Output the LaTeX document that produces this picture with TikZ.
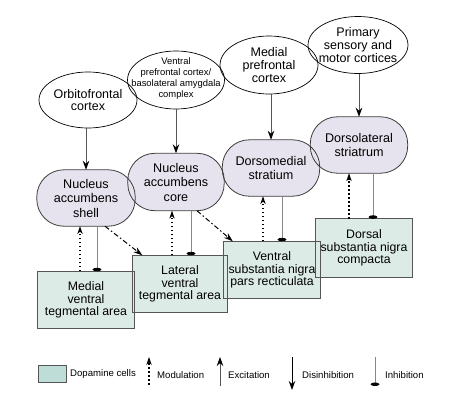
\documentclass[tikz,border=0pt]{standalone}
\usepackage{fontspec}
\setmainfont{Liberation Sans}
\usetikzlibrary{shapes.geometric,arrows.meta}
\definecolor{lav}{HTML}{E6E3EF}
\definecolor{dopfill}{HTML}{DDEBE7}
\definecolor{dopleg}{HTML}{BEDDD6}
\definecolor{strline}{HTML}{3A3A3A}
\definecolor{boxline}{HTML}{555555}
\definecolor{inhline}{HTML}{888888}
\definecolor{excline}{HTML}{555555}
\begin{document}
\begin{tikzpicture}[x=1pt,y=-1pt,
  ctx/.style={ellipse, draw=black, line width=0.7pt, inner sep=0pt},
  ctxtext/.style={inner sep=0pt, align=center, font=\fontsize{12.5}{12.6}\selectfont},
  strnode/.style={rectangle, rounded corners=27pt, fill=lav, inner sep=0pt, align=center,
    font=\fontsize{12.6}{14.5}\selectfont},
  dopnode/.style={rectangle, fill=dopfill, inner sep=0pt, align=center,
    font=\fontsize{12.3}{12.3}\selectfont},
  strout/.style={draw=strline, line width=0.8pt, rounded corners=27pt},
  dopout/.style={draw=boxline, line width=0.8pt},
  exc/.style={draw=excline, line width=0.8pt, -{Stealth[length=9pt,width=6.5pt,color=black]}},
  modu/.style={draw=black, line width=1.7pt, dash pattern=on 1.7pt off 2.3pt,
    -{Stealth[length=8pt,width=5.5pt,color=black,line width=0pt]}},
  dashdot/.style={draw=black, line width=1pt, dash pattern=on 5pt off 2.5pt on 1.5pt off 2.5pt,
    -{Stealth[length=9pt,width=6pt,color=black]}},
  inh/.style={draw=inhline, line width=0.9pt, -{Ellipse[width=8.5pt,length=3.5pt,color=black]}},
  disinh/.style={draw=black, line width=1pt, -{Stealth[length=9pt,width=6.5pt,color=black]}},
  legtext/.style={anchor=west, inner sep=0pt, font=\fontsize{9.6}{11}\selectfont}
]
\useasboundingbox (0,0) rectangle (450,400);

% cortex ellipses
\node[ctx, minimum width=98pt, minimum height=56pt] (ofc) at (88,100) {};
\node[ctxtext] (ofct) at (ofc.center) {Orbitofrontal\\cortex};
\node[ctx, minimum width=97pt, minimum height=58pt] (vpfc) at (176,80) {};
\node[ctxtext, font=\fontsize{9.4}{11}\selectfont] (vpfct) at ([yshift=1pt]vpfc.center)
  {Ventral\\prefrontal cortex/\\basolateral amygdala\\complex};
\node[ctx, minimum width=98pt, minimum height=58pt] (mpfc) at (269,65) {};
\node[ctxtext] (mpfct) at (mpfc.center) {Medial\\prefrontal\\cortex};
\node[ctx, minimum width=100pt, minimum height=57pt] (psm) at (358,45) {};
\node[ctxtext] (psmt) at (psm.center) {Primary\\sensory and\\motor cortices};

% striatal nodes
\node[strnode, minimum width=98pt, minimum height=56pt] (shell) at (86,198) {Nucleus\\accumbens\\shell};
\node[strnode, minimum width=96pt, minimum height=57pt] (core) at (176,182) {Nucleus\\accumbens\\core};
\node[strnode, minimum width=97pt, minimum height=56pt] (dms) at (271,168) {Dorsomedial\\stratium};
\node[strnode, minimum width=97pt, minimum height=56pt] (dls) at (359,145) {Dorsolateral\\striatrum};
\foreach \n in {shell,core,dms,dls} \draw[strout] (\n.south west) rectangle (\n.north east);

% dopamine nodes
\node[dopnode, minimum width=96pt, minimum height=57pt] (mvta) at (86,300) {Medial\\ventral\\tegmental area};
\node[dopnode, minimum width=95pt, minimum height=57pt] (lvta) at (180,284) {Lateral\\ventral\\tegmental area};
\node[dopnode, minimum width=96pt, minimum height=57pt] (vsn) at (272,270) {Ventral\\substantia nigra\\pars recticulata};
\node[dopnode, minimum width=96pt, minimum height=58pt] (dsn) at (364,248) {Dorsal\\substantia nigra\\compacta};
\foreach \n in {mvta,lvta,vsn,dsn} \draw[dopout] (\n.south west) rectangle (\n.north east);

% excitation
\draw[exc] (ofc.south -| shell.north) -- (shell.north);
\draw[exc] (vpfc.south -| core.north) -- (core.north);
\draw[exc] (mpfc.south -| dms.north) -- (dms.north);
\draw[exc] (psm.south -| dls.north) -- (dls.north);

% modulation
\draw[modu] ([xshift=-6pt]mvta.north) -- ([xshift=-6pt]mvta.north |- shell.south);
\draw[modu] ([xshift=-8pt]lvta.north) -- ([xshift=-8pt]lvta.north |- core.south);
\draw[modu] ([xshift=-9pt]vsn.north) -- ([xshift=-9pt]vsn.north |- dms.south);
\draw[modu] ([xshift=-15pt]dsn.north) -- ([xshift=-15pt]dsn.north |- dls.south);

% inhibition
\draw[inh] ([xshift=11pt]shell.south) -- ([xshift=11pt]shell.south |- mvta.north);
\draw[inh] ([xshift=15pt]core.south) -- ([xshift=15pt]core.south |- lvta.north);
\draw[inh] ([xshift=11pt]dms.south) -- ([xshift=11pt]dms.south |- vsn.north);
\draw[inh] ([xshift=14pt]dls.south) -- ([xshift=14pt]dls.south |- dsn.north);

% dash-dot
\draw[dashdot] ([xshift=19pt]shell.south) -- ([xshift=10pt]lvta.north west);
\draw[dashdot] ([xshift=21pt]core.south) -- ([xshift=9pt]vsn.north west);

% legend
\node[draw=boxline, line width=0.8pt, fill=dopleg, minimum width=28pt, minimum height=17pt, inner sep=0pt] (legbox) at (52,373.5) {};
\node[legtext] (legdop) at (70,374.5) {Dopamine cells};
\coordinate (m1) at (149,385);
\coordinate (m2) at (149,357);
\draw[modu] (m1) -- (m2);
\node[legtext] (legmod) at (157,375) {Modulation};
\coordinate (e1) at (220,386);
\coordinate (e2) at (220,357);
\draw[exc] (e1) -- (e2);
\node[legtext] (legexc) at (228,375) {Excitation};
\coordinate (d1) at (292,357);
\coordinate (d2) at (292,390);
\draw[disinh] (d1) -- (d2);
\node[legtext] (legdis) at (302,375) {Disinhibition};
\coordinate (i1) at (375,357);
\coordinate (i2) at (375,386);
\draw[inh] (i1) -- (i2);
\node[legtext] (leginh) at (385,375) {Inhibition};
\end{tikzpicture}
\end{document}
